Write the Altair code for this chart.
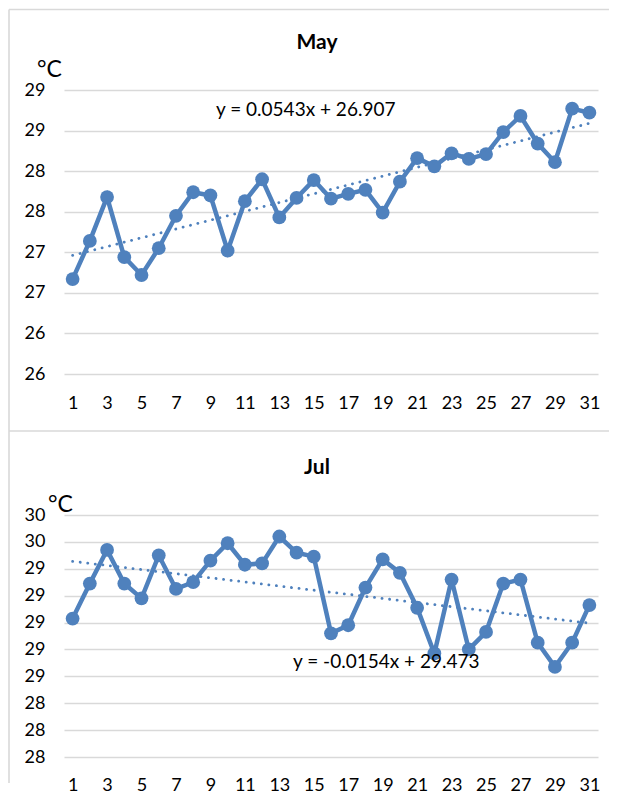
import altair as alt
import pandas as pd

# ---------------- data ----------------
days = list(range(1, 32))
may_temps = [26.67, 27.14, 27.68, 26.94, 26.72, 27.05, 27.45, 27.74, 27.70, 27.02,
             27.63, 27.90, 27.43, 27.67, 27.89, 27.66, 27.72, 27.77, 27.49, 27.87,
             28.16, 28.06, 28.22, 28.15, 28.21, 28.48, 28.68, 28.34, 28.11, 28.77, 28.72]
jul_temps = [29.03, 29.29, 29.54, 29.29, 29.18, 29.50, 29.25, 29.30, 29.46, 29.59,
             29.43, 29.44, 29.64, 29.52, 29.49, 28.92, 28.98, 29.26, 29.47, 29.37,
             29.11, 28.77, 29.32, 28.80, 28.93, 29.29, 29.32, 28.85, 28.67, 28.85, 29.13]
x_ticks = list(range(1, 32, 2))
may_y_ticks = [25.5, 26.0, 26.5, 27.0, 27.5, 28.0, 28.5, 29.0]
jul_y_ticks = [28.0, 28.2, 28.4, 28.6, 28.8, 29.0, 29.2, 29.4, 29.6, 29.8]
titles = ["May", "Jul"]
equations = ["y = 0.0543x + 26.907", "y = -0.0154x + 29.473"]
unit = "°C"

BLUE = "#4F81BD"
GRID = "#D9D9D9"
FONT = "Lato"
W = 534


def one():
    return alt.Data(values=[{}])


def panel(title, temps, yticks, height, eq, eq_xy, unit_xy, borders, xpad):
    df = pd.DataFrame({"day": days, "temp": temps})
    x = alt.X("day:Q", scale=alt.Scale(domain=[0.5, 31.5], nice=False),
              axis=alt.Axis(values=x_ticks, tickCount=len(x_ticks), format="d",
                            grid=False, domain=False, ticks=False, tickSize=0,
                            labelPadding=xpad, labelBaseline="alphabetic",
                            labelFlush=False, labelOverlap=False, title=None))
    y = alt.Y("temp:Q", scale=alt.Scale(domain=[yticks[0], yticks[-1]], nice=False, zero=False),
              axis=alt.Axis(values=yticks, tickCount=len(yticks), format=".0f", grid=True,
                            gridColor=GRID, gridWidth=1.4, domain=False, ticks=False,
                            tickSize=0, labelPadding=19, labelOverlap=False, title=None))
    base = alt.Chart(df)
    line = base.mark_line(color=BLUE, strokeWidth=4.5).encode(x=x, y=y)
    pts = base.mark_circle(color=BLUE, size=190, opacity=1).encode(x=x, y=y)
    trend = base.transform_regression("day", "temp", extent=[1, 31]).mark_line(
        color=BLUE, strokeWidth=2.8, strokeDash=[0.1, 7.5], strokeCap="round"
    ).encode(x=x, y=y)
    ttl = alt.Chart(one()).mark_text(font=FONT, fontSize=21, fontWeight="bold", color="#000",
                                     align="center", baseline="alphabetic").encode(
        x=alt.value(253), y=alt.value(-41), text=alt.value(title))
    unit_t = alt.Chart(one()).mark_text(font=FONT, fontSize=23, color="#000",
                                        align="left", baseline="alphabetic").encode(
        x=alt.value(unit_xy[0]), y=alt.value(unit_xy[1]), text=alt.value(unit))
    eq_t = alt.Chart(one()).mark_text(font=FONT, fontSize=19, color="#000",
                                      align="left", baseline="alphabetic").encode(
        x=alt.value(eq_xy[0]), y=alt.value(eq_xy[1]), text=alt.value(eq))
    layers = []
    for b in borders:
        r = alt.Chart(one()).mark_rule(color=GRID, strokeWidth=1.6)
        if b[0] == "v":
            r = r.encode(x=alt.value(b[1]), y=alt.value(b[2]), y2=alt.value(b[3]))
        else:
            r = r.encode(y=alt.value(b[1]), x=alt.value(b[2]), x2=alt.value(b[3]))
        layers.append(r)
    return alt.layer(line, pts, trend, ttl, unit_t, eq_t, *layers).properties(
        width=W, height=height)


top = panel(titles[0], may_temps, may_y_ticks, 284, equations[0], (152, 26), (-27, -13),
            [("h", -80.5, -55, 545), ("v", -55, -80.5, 341), ("h", 341, -55, 545)], 34)
bottom = panel(titles[1], jul_temps, jul_y_ticks, 242, equations[1], (229, 153), (-16, -3),
               [("v", -55, -84, 268)], 33)

chart = alt.vconcat(top, bottom, spacing=141, bounds="flush").properties(
    padding=0
).configure_view(stroke=None).configure_axis(
    labelFont=FONT, labelFontSize=18, labelColor="#000"
)

chart.save("out.html", embed_options={"renderer": "svg", "actions": False})
